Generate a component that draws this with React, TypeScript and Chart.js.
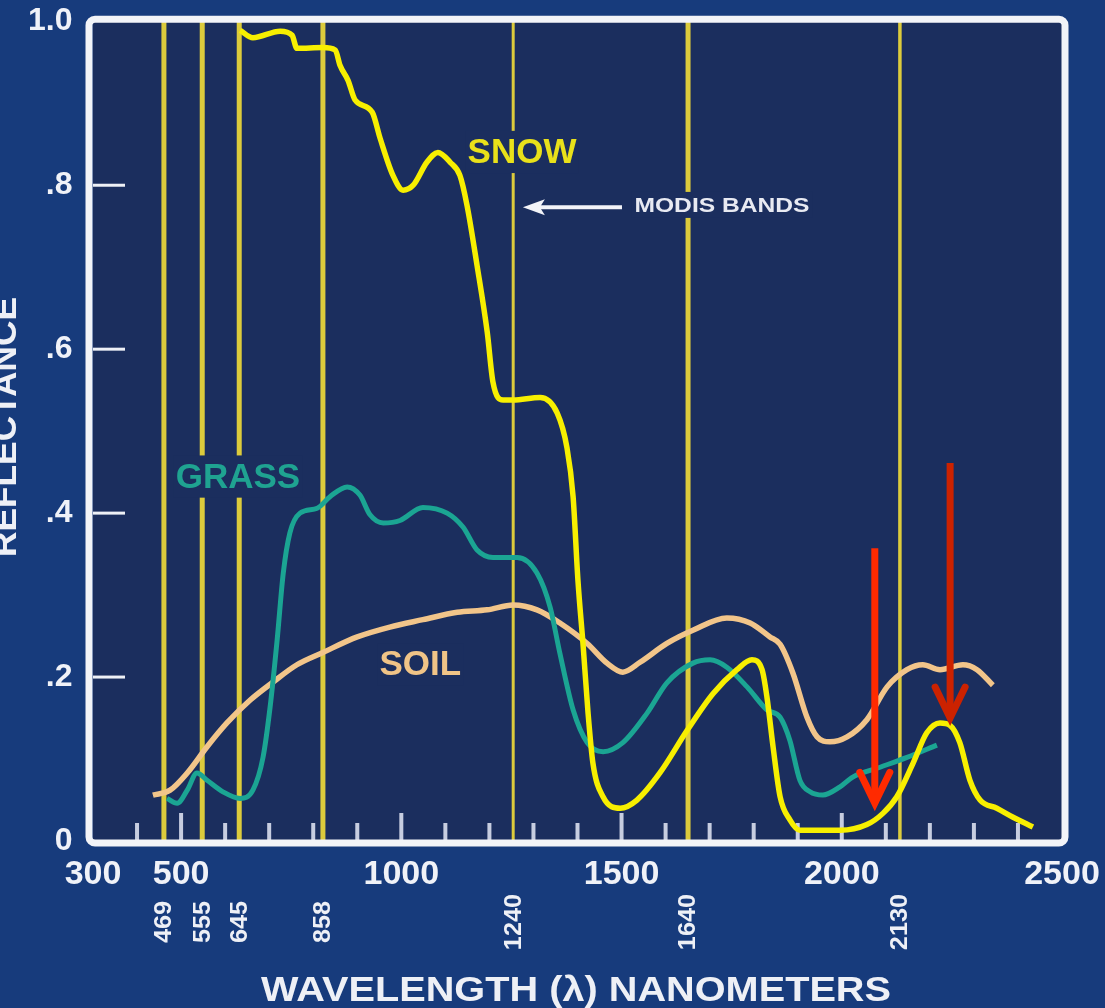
import React, { useEffect, useRef } from 'react';
import { Chart, registerables } from 'chart.js';

Chart.register(...registerables);

// ---------- data (wavelength in nm, reflectance 0..1) ----------
const snowWavelengths = [634, 663, 725, 752, 763, 822, 850, 861, 879, 895, 934, 952, 981, 1004, 1027, 1058, 1083, 1111, 1133, 1149, 1172, 1195, 1208, 1231, 1254, 1315, 1354, 1376, 1390, 1401, 1413, 1424, 1435, 1458, 1497, 1535, 1587, 1649, 1708, 1762, 1796, 1819, 1830, 1844, 1860, 1882, 1905, 1935, 1996, 2057, 2094, 2125, 2162, 2193, 2223, 2246, 2268, 2291, 2314, 2352, 2389, 2434];
const snowValues = [0.989, 0.98, 0.988, 0.983, 0.967, 0.968, 0.965, 0.946, 0.928, 0.904, 0.889, 0.857, 0.812, 0.794, 0.8, 0.828, 0.84, 0.828, 0.812, 0.776, 0.702, 0.621, 0.56, 0.538, 0.538, 0.541, 0.522, 0.48, 0.42, 0.318, 0.237, 0.156, 0.095, 0.054, 0.04, 0.05, 0.083, 0.135, 0.18, 0.209, 0.221, 0.209, 0.176, 0.115, 0.054, 0.026, 0.013, 0.013, 0.013, 0.02, 0.034, 0.054, 0.095, 0.132, 0.144, 0.141, 0.12, 0.074, 0.05, 0.04, 0.029, 0.017];

const grassWavelengths = [468, 491, 514, 536, 559, 595, 634, 663, 686, 702, 718, 732, 747, 770, 809, 838, 877, 906, 929, 959, 997, 1049, 1104, 1140, 1172, 1208, 1263, 1308, 1338, 1360, 1390, 1422, 1458, 1503, 1558, 1603, 1662, 1701, 1739, 1785, 1830, 1860, 1882, 1905, 1928, 1957, 1996, 2025, 2087, 2148, 2216];
const grassValues = [0.052, 0.046, 0.062, 0.083, 0.074, 0.06, 0.052, 0.062, 0.102, 0.163, 0.245, 0.327, 0.376, 0.4, 0.406, 0.42, 0.432, 0.422, 0.398, 0.388, 0.391, 0.407, 0.4, 0.383, 0.355, 0.346, 0.346, 0.327, 0.285, 0.229, 0.16, 0.12, 0.109, 0.12, 0.156, 0.193, 0.217, 0.221, 0.212, 0.188, 0.16, 0.151, 0.123, 0.074, 0.06, 0.056, 0.066, 0.078, 0.09, 0.102, 0.117];

const soilWavelengths = [436, 475, 514, 559, 604, 657, 709, 763, 822, 900, 974, 1049, 1127, 1195, 1254, 1308, 1360, 1422, 1467, 1503, 1542, 1603, 1662, 1739, 1792, 1837, 1860, 1889, 1921, 1944, 1973, 2012, 2057, 2103, 2148, 2184, 2223, 2275, 2307, 2343];
const soilValues = [0.056, 0.062, 0.083, 0.115, 0.144, 0.172, 0.194, 0.215, 0.23, 0.249, 0.261, 0.27, 0.279, 0.282, 0.288, 0.282, 0.266, 0.241, 0.217, 0.206, 0.218, 0.241, 0.257, 0.272, 0.266, 0.249, 0.24, 0.205, 0.151, 0.127, 0.121, 0.127, 0.148, 0.188, 0.209, 0.215, 0.209, 0.215, 0.209, 0.19];

// MODIS band lines (drawn where the picture puts them) and their labels
const bandPositions = [461, 548, 632, 822, 1254, 1651, 2132];
const bandLabels = ['469', '555', '645', '858', '1240', '1640', '2130'];
const bandLineWidths = [5, 5, 5, 5, 3, 5, 3.5];

const xTickValues = [300, 500, 1000, 1500, 2000, 2500];
const xTickLabels = ['300', '500', '1000', '1500', '2000', '2500'];
const xMinorTicks = [400, 500, 600, 700, 800, 900, 1000, 1100, 1200, 1300, 1400, 1500, 1600, 1700, 1800, 1900, 2000, 2100, 2200, 2300, 2400];
const xMajorTicks = [500, 1000, 1500, 2000];
const yTickValues = [0, 0.2, 0.4, 0.6, 0.8, 1.0];
const yTickLabels = ['0', '.2', '.4', '.6', '.8', '1.0'];
const yInnerTicks = [0.2, 0.4, 0.6, 0.8];

// annotations (data coordinates)
const curveLabels = [
  { text: 'SNOW', x: 1274, y: 0.84, color: '#e9e11a', size: 35 },
  { text: 'GRASS', x: 629, y: 0.444, color: '#1fa391', size: 35 },
  { text: 'SOIL', x: 1043, y: 0.215, color: '#f0c487', size: 35 },
];
const modisNote = { text: 'MODIS BANDS', x: 1728, y: 0.776, arrowFrom: 1501, arrowTo: 1276, arrowY: 0.773 };
const redArrows = [
  { x: 2075, top: 0.357, tip: 0.046, color: '#ff2a00' },
  { x: 2246, top: 0.461, tip: 0.15, color: '#cc2200' },
];

const OUTER_BG = '#173b7c';
const PLOT_BG = '#1b2e5e';
const BAND_COLOR = '#dccb3c';
const FONT = "'Liberation Sans', Arial, sans-serif";

function line(ctx: CanvasRenderingContext2D, x1: number, y1: number, x2: number, y2: number) {
  ctx.beginPath();
  ctx.moveTo(x1, y1);
  ctx.lineTo(x2, y2);
  ctx.stroke();
}

function stretchedText(ctx: CanvasRenderingContext2D, text: string, x: number, y: number, sx: number) {
  ctx.save();
  ctx.translate(x, y);
  ctx.scale(sx, 1);
  ctx.fillText(text, 0, 0);
  ctx.restore();
}

const decoPlugin = {
  id: 'deco',
  beforeDraw(chart: any) {
    const { ctx, chartArea: a } = chart;
    ctx.save();
    ctx.fillStyle = PLOT_BG;
    ctx.fillRect(a.left, a.top, a.right - a.left, a.bottom - a.top);
    ctx.restore();
  },
  beforeDatasetsDraw(chart: any) {
    const { ctx, chartArea: a, scales } = chart;
    const xs = scales.x;
    const ys = scales.y;
    ctx.save();
    // inner x ticks
    ctx.strokeStyle = '#c7cde0';
    ctx.lineWidth = 4;
    xMinorTicks.forEach((w) => {
      const px = xs.getPixelForValue(w);
      const len = xMajorTicks.includes(w) ? 28 : 18;
      line(ctx, px, a.bottom, px, a.bottom - len);
    });
    // inner y ticks
    ctx.strokeStyle = '#eef0f6';
    ctx.lineWidth = 3;
    yInnerTicks.forEach((v) => {
      const py = ys.getPixelForValue(v);
      line(ctx, a.left, py, a.left + 32, py);
    });
    // band lines
    ctx.strokeStyle = BAND_COLOR;
    bandPositions.forEach((w, i) => {
      ctx.lineWidth = bandLineWidths[i];
      const px = xs.getPixelForValue(w);
      line(ctx, px, a.top, px, a.bottom);
    });
    // curve labels with plot-colour patches
    ctx.textAlign = 'center';
    ctx.textBaseline = 'middle';
    curveLabels.forEach((l) => {
      ctx.font = `bold ${l.size}px ${FONT}`;
      const px = xs.getPixelForValue(l.x);
      const py = ys.getPixelForValue(l.y);
      const w = ctx.measureText(l.text).width;
      const h = l.size * 0.72;
      ctx.fillStyle = PLOT_BG;
      ctx.fillRect(px - w / 2 - 2, py - h / 2 - 9, w + 4, h + 17);
      ctx.fillStyle = l.color;
      ctx.fillText(l.text, px, py + 1);
    });
    // MODIS BANDS note
    ctx.font = `bold 21px ${FONT}`;
    const mx = xs.getPixelForValue(modisNote.x);
    const my = ys.getPixelForValue(modisNote.y);
    const mw = ctx.measureText(modisNote.text).width;
    const target = 175;
    ctx.fillStyle = PLOT_BG;
    ctx.fillRect(mx - target / 2 - 3, my - 13, target + 6, 26);
    ctx.fillStyle = '#e8eaf2';
    stretchedText(ctx, modisNote.text, mx, my + 1, target / mw);
    // white arrow
    const ax1 = xs.getPixelForValue(modisNote.arrowFrom);
    const ax2 = xs.getPixelForValue(modisNote.arrowTo);
    const ay = ys.getPixelForValue(modisNote.arrowY);
    ctx.strokeStyle = '#f2f3f8';
    ctx.lineWidth = 4;
    line(ctx, ax1, ay, ax2 + 14, ay);
    ctx.fillStyle = '#f2f3f8';
    ctx.beginPath();
    ctx.moveTo(ax2, ay);
    ctx.lineTo(ax2 + 22, ay - 8);
    ctx.lineTo(ax2 + 17, ay);
    ctx.lineTo(ax2 + 22, ay + 8);
    ctx.closePath();
    ctx.fill();
    ctx.restore();
  },
  afterDatasetsDraw(chart: any) {
    const { ctx, chartArea: a, scales } = chart;
    const xs = scales.x;
    const ys = scales.y;
    ctx.save();
    // red arrows
    redArrows.forEach((r) => {
      const px = xs.getPixelForValue(r.x);
      const pt = ys.getPixelForValue(r.top);
      const pp = ys.getPixelForValue(r.tip);
      ctx.strokeStyle = r.color;
      ctx.lineWidth = 7;
      ctx.lineCap = 'butt';
      line(ctx, px, pt, px, pp - 4);
      ctx.lineCap = 'round';
      ctx.lineJoin = 'miter';
      ctx.beginPath();
      ctx.moveTo(px - 15, pp - 31);
      ctx.lineTo(px, pp);
      ctx.lineTo(px + 15, pp - 31);
      ctx.stroke();
    });
    // white frame
    ctx.strokeStyle = '#f3f4f8';
    ctx.lineWidth = 7;
    ctx.lineJoin = 'round';
    ctx.beginPath();
    ctx.roundRect(a.left - 4, a.top - 2, a.right - a.left + 7, a.bottom - a.top + 4, 6);
    ctx.stroke();
    ctx.restore();
  },
  afterDraw(chart: any) {
    const { ctx, scales } = chart;
    const xs = scales.x;
    ctx.save();
    ctx.fillStyle = '#eef0f6';
    ctx.textAlign = 'center';
    ctx.textBaseline = 'middle';
    // band labels (vertical)
    ctx.font = `bold 23px ${FONT}`;
    bandPositions.forEach((w, i) => {
      const px = xs.getPixelForValue(w);
      ctx.save();
      ctx.translate(px + 1, 922);
      ctx.rotate(-Math.PI / 2);
      ctx.scale(1.1, 1);
      ctx.fillText(bandLabels[i], 0, 0);
      ctx.restore();
    });
    // axis titles
    ctx.font = `bold 35px ${FONT}`;
    const xt = 'WAVELENGTH (λ) NANOMETERS';
    const xw = ctx.measureText(xt).width;
    stretchedText(ctx, xt, 576, 991, 630 / xw);
    ctx.save();
    ctx.translate(6, 427);
    ctx.rotate(-Math.PI / 2);
    const yt = 'REFLECTANCE';
    const yw = ctx.measureText(yt).width;
    ctx.scale(260 / yw, 1);
    ctx.fillText(yt, 0, 0);
    ctx.restore();
    ctx.restore();
  },
};

export default function App() {
  const canvasRef = useRef<HTMLCanvasElement | null>(null);

  useEffect(() => {
    document.body.style.margin = '0';
    const canvas = canvasRef.current;
    if (!canvas) return;
    const mk = (ws: number[], vs: number[]) => ws.map((w, i) => ({ x: w, y: vs[i] }));
    const chart = new Chart(canvas, {
      type: 'line',
      data: {
        datasets: [
          { label: 'Snow', data: mk(snowWavelengths, snowValues), borderColor: '#f7ef00', borderWidth: 5.5, pointRadius: 0, cubicInterpolationMode: 'monotone' },
          { label: 'Grass', data: mk(grassWavelengths, grassValues), borderColor: '#1ba593', borderWidth: 5, pointRadius: 0, cubicInterpolationMode: 'monotone' },
          { label: 'Soil', data: mk(soilWavelengths, soilValues), borderColor: '#f2c58a', borderWidth: 5.5, pointRadius: 0, cubicInterpolationMode: 'monotone' },
        ],
      },
      options: {
        responsive: false,
        animation: false,
        events: [],
        layout: { padding: { top: 21, right: 43, left: 0, bottom: 0 } },
        plugins: { legend: { display: false }, tooltip: { enabled: false } },
        scales: {
          x: {
            type: 'linear',
            min: 300,
            max: 2500,
            grid: { display: false, drawTicks: false },
            border: { display: false },
            afterBuildTicks: (s: any) => { s.ticks = xTickValues.map((v) => ({ value: v })); },
            afterFit: (s: any) => { s.height = 167; },
            ticks: {
              autoSkip: false,
              maxRotation: 0,
              minRotation: 0,
              padding: 0,
              color: '#f0f2f8',
              font: { family: FONT, size: 34, weight: 'bold', lineHeight: 2 },
              callback: (_v: any, i: number) => xTickLabels[i],
            },
          },
          y: {
            type: 'linear',
            min: 0,
            max: 1,
            grid: { display: false, drawTicks: false },
            border: { display: false },
            afterBuildTicks: (s: any) => { s.ticks = yTickValues.map((v) => ({ value: v })); },
            afterFit: (s: any) => { s.width = 93; },
            ticks: {
              autoSkip: false,
              padding: 20.5,
              color: '#f0f2f8',
              font: { family: FONT, size: 32, weight: 'bold', lineHeight: 0.05 },
              callback: (_v: any, i: number) => yTickLabels[i],
            },
          },
        },
      } as any,
      plugins: [decoPlugin],
    });
    return () => chart.destroy();
  }, []);

  return (
    <div style={{ width: 1105, height: 1008, background: OUTER_BG, overflow: 'hidden' }}>
      <canvas ref={canvasRef} width={1105} height={1008} style={{ display: 'block' }} />
    </div>
  );
}
